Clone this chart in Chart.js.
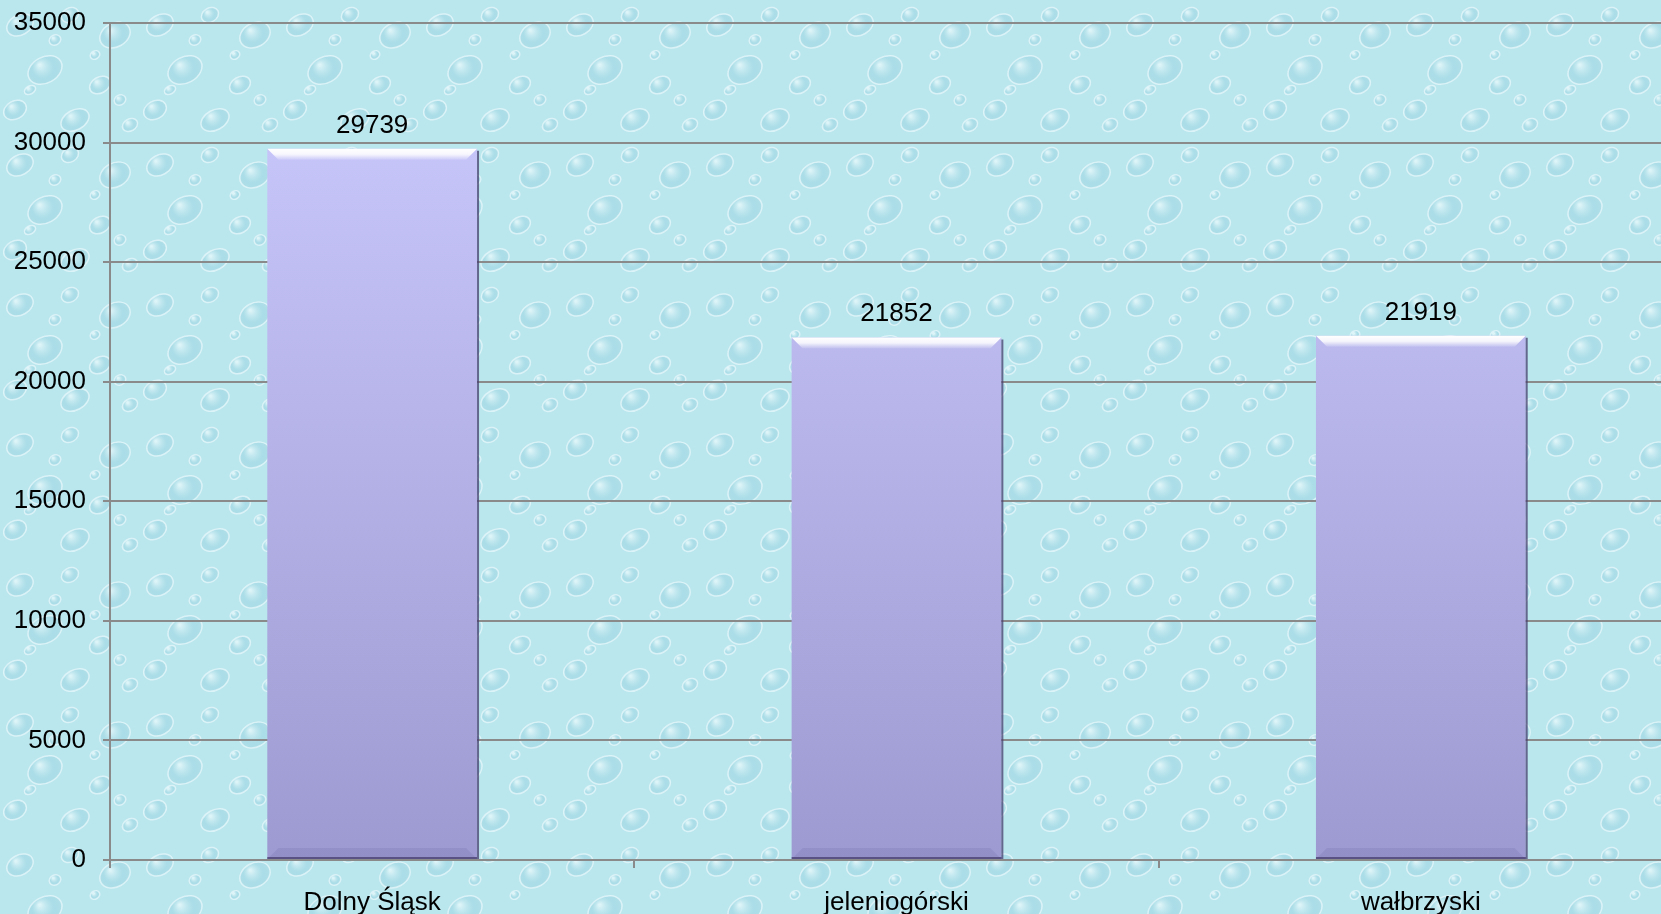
<!DOCTYPE html>
<html>
<head>
<meta charset="utf-8">
<script src="https://cdn.jsdelivr.net/npm/chart.js@4.4.1/dist/chart.umd.min.js"></script>
<style>
  html, body { margin: 0; padding: 0; overflow: hidden; background: #b6e4ec; }
  #wrap { width: 1683px; height: 914px; position: relative; }
</style>
</head>
<body>
<div id="wrap"><canvas id="chart"></canvas></div>
<script>
const categories = ["Dolny Śląsk", "jeleniogórski", "wałbrzyski"];
const values = [29739, 21852, 21919];
const yTicks = [0, 5000, 10000, 15000, 20000, 25000, 30000, 35000];

// tło - jasnoturkusowe z kroplami
function makeDropPattern(ctx) {
  const tile = document.createElement("canvas");
  tile.width = 140;
  tile.height = 140;
  const t = tile.getContext("2d");
  t.fillStyle = "#bae6ed";
  t.fillRect(0, 0, 140, 140);
  const drops = [
    [20, 25, 14, 10], [70, 15, 9, 7], [115, 35, 16, 12], [45, 70, 18, 13],
    [100, 85, 11, 8], [15, 110, 12, 9], [75, 120, 15, 10], [130, 125, 8, 6],
    [55, 40, 6, 5], [95, 55, 5, 4], [30, 90, 6, 4], [120, 100, 6, 5]
  ];
  drops.forEach(([x, y, rx, ry]) => {
    const g = t.createRadialGradient(x - rx * 0.3, y - ry * 0.4, 1, x, y, rx);
    g.addColorStop(0, "rgba(235,250,252,0.7)");
    g.addColorStop(0.6, "rgba(150,210,225,0.45)");
    g.addColorStop(1, "rgba(130,195,215,0.15)");
    t.fillStyle = g;
    t.beginPath();
    t.ellipse(x, y, rx, ry, -0.5, 0, Math.PI * 2);
    t.fill();
    t.strokeStyle = "rgba(235,250,252,0.7)";
    t.lineWidth = 1.5;
    t.stroke();
  });
  return ctx.createPattern(tile, "repeat");
}

const backgroundPlugin = {
  id: "bg",
  beforeDraw(chart) {
    const ctx = chart.ctx;
    ctx.save();
    ctx.fillStyle = makeDropPattern(ctx);
    ctx.fillRect(0, 0, chart.width, chart.height);
    ctx.restore();
  }
};

// fazowanie słupków i etykiety wartości
const bevelPlugin = {
  id: "bevel",
  afterDatasetsDraw(chart) {
    const ctx = chart.ctx;
    const meta = chart.getDatasetMeta(0);
    meta.data.forEach((bar, i) => {
      const left = bar.x - bar.width / 2;
      const right = bar.x + bar.width / 2;
      const top = bar.y;
      const bottom = bar.base;
      const b = 11;
      ctx.save();
      // górny biały pasek
      let g = ctx.createLinearGradient(0, top, 0, top + b);
      g.addColorStop(0, "rgba(255,255,255,1)");
      g.addColorStop(0.5, "rgba(255,255,255,0.85)");
      g.addColorStop(1, "rgba(255,255,255,0.1)");
      ctx.fillStyle = g;
      ctx.beginPath();
      ctx.moveTo(left, top);
      ctx.lineTo(right, top);
      ctx.lineTo(right - b, top + b);
      ctx.lineTo(left + b, top + b);
      ctx.closePath();
      ctx.fill();
      // dolny ciemny pasek
      ctx.fillStyle = "rgba(90,80,150,0.15)";
      ctx.beginPath();
      ctx.moveTo(left, bottom);
      ctx.lineTo(right, bottom);
      ctx.lineTo(right - b, bottom - b);
      ctx.lineTo(left + b, bottom - b);
      ctx.closePath();
      ctx.fill();
      // cień z prawej i u dołu
      ctx.strokeStyle = "rgba(70,60,110,0.75)";
      ctx.lineWidth = 2;
      ctx.beginPath();
      ctx.moveTo(right + 1, top + 2);
      ctx.lineTo(right + 1, bottom);
      ctx.moveTo(left, bottom - 1);
      ctx.lineTo(right + 1, bottom - 1);
      ctx.stroke();
      // etykieta
      ctx.fillStyle = "#000";
      ctx.font = "26px 'Liberation Sans', Arial, sans-serif";
      ctx.textAlign = "center";
      ctx.textBaseline = "alphabetic";
      ctx.fillText(values[i], bar.x, top - 16);
      ctx.restore();
    });
  }
};

const ctx = document.getElementById("chart").getContext("2d");
const barGradient = ctx.createLinearGradient(0, 23, 0, 860);
barGradient.addColorStop(0, "#cdccff");
barGradient.addColorStop(1, "#9d9ad1");

new Chart(ctx, {
  type: "bar",
  data: {
    labels: categories,
    datasets: [{
      data: values,
      backgroundColor: barGradient,
      borderWidth: 0,
      barPercentage: 0.4,
      categoryPercentage: 1
    }]
  },
  options: {
    responsive: true,
    maintainAspectRatio: false,
    animation: false,
    layout: { padding: { top: 23, right: 0, left: 0, bottom: 0 } },
    plugins: {
      legend: { display: false },
      tooltip: { enabled: false }
    },
    scales: {
      x: {
        grid: {
          display: true,
          drawOnChartArea: false,
          drawTicks: true,
          tickLength: 8,
          offset: true,
          color: "#8a8a8a",
          lineWidth: 2
        },
        border: { display: true, color: "#8a8a8a", width: 2 },
        ticks: {
          color: "#000",
          padding: 19,
          maxRotation: 0,
          font: { family: "'Liberation Sans', Arial, sans-serif", size: 26 }
        },
        afterFit: axis => { axis.height = 54; axis.paddingLeft = 0; axis.paddingRight = 0; }
      },
      y: {
        min: 0,
        max: 35000,
        afterBuildTicks: axis => { axis.ticks = yTicks.map(v => ({ value: v })); },
        grid: {
          color: "#8a8a8a",
          lineWidth: 2,
          tickLength: 7
        },
        border: { display: true, color: "#8a8a8a", width: 2 },
        ticks: {
          color: "#000",
          padding: 17,
          callback: value => String(value),
          font: { family: "'Liberation Sans', Arial, sans-serif", size: 26 }
        },
        afterFit: axis => { axis.width = 110; axis.paddingTop = 0; axis.paddingBottom = 0; }
      }
    }
  },
  plugins: [backgroundPlugin, bevelPlugin]
});
</script>
</body>
</html>
